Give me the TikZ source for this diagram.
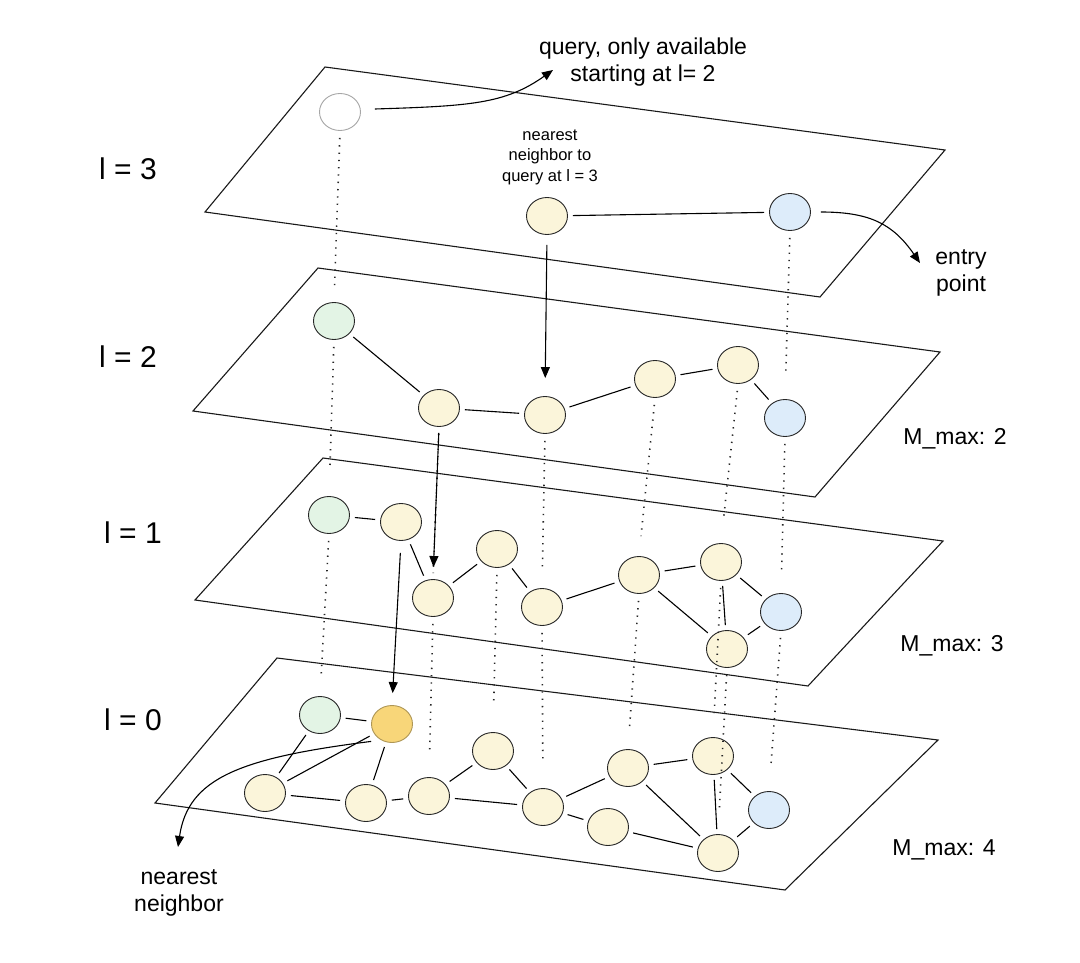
\documentclass[tikz,border=0pt]{standalone}
\usepackage{fontspec}
\setmainfont{Liberation Sans}
\usetikzlibrary{shapes.geometric,arrows.meta}
\definecolor{nyel}{HTML}{FBF5DA}
\definecolor{ngrn}{HTML}{E3F4E5}
\definecolor{nblu}{HTML}{DDECFA}
\definecolor{nora}{HTML}{F8D679}
\begin{document}
\begin{tikzpicture}[x=1pt,y=-1pt,
  plane/.style={draw=black!90,line width=1.1pt},
  vtx/.style={ellipse,draw=black!85,line width=0.9pt,minimum width=41pt,minimum height=37pt,inner sep=0pt},
  yel/.style={vtx,fill=nyel},
  grn/.style={vtx,fill=ngrn},
  blu/.style={vtx,fill=nblu},
  ora/.style={vtx,fill=nora,draw=nora!70!black},
  qry/.style={vtx,fill=white,draw=black!35},
  edge/.style={line width=1.1pt,shorten <=5pt,shorten >=5pt},
  dotl/.style={line width=1.6pt,dash pattern=on 1.3pt off 6pt,shorten <=7pt,draw=black!85},
  arr/.style={line width=1.1pt,-{Triangle[length=11pt,width=9pt]}},
  lbl/.style={font=\fontsize{30}{34}\selectfont},
  txt/.style={font=\fontsize{23}{27}\selectfont,align=center},
  mtxt/.style={font=\fontsize{23}{27}\selectfont},
  small/.style={font=\fontsize{16.5}{20.5}\selectfont,align=center}
]
\useasboundingbox (0,0) rectangle (1080,963);
\fill[white] (0,0) rectangle (1080,963);

% planes
\draw[plane] (325,67) -- (945,150) -- (820,297) -- (205,212) -- cycle;
\draw[plane] (318,268) -- (940,352) -- (815,497) -- (193,411) -- cycle;
\draw[plane] (323,458) -- (943,541) -- (808,686) -- (195,600) -- cycle;
\draw[plane] (277,658) -- (938,740) -- (785,890) -- (155,803) -- cycle;

% layer labels
\node[lbl] (L3) at (128,169) {l = 3};
\node[lbl] (L2) at (128,357) {l = 2};
\node[lbl] (L1) at (133,533) {l = 1};
\node[lbl] (L0) at (133,720) {l = 0};

% layer 3 nodes
\node[qry] (q) at (340,112) {};
\node[yel] (a3) at (547,216) {};
\node[blu] (b3) at (790,212) {};

% layer 2 nodes
\node[grn] (g2) at (334,321) {};
\node[yel] (a2) at (439,408) {};
\node[yel] (c2) at (545,415) {};
\node[yel] (d2) at (655,379) {};
\node[yel] (e2) at (738,365) {};
\node[blu] (b2) at (785,418) {};

% layer 1 nodes
\node[grn] (g1) at (329,515) {};
\node[yel] (a1) at (401,522) {};
\node[yel] (c1) at (433,598) {};
\node[yel] (d1) at (497,549) {};
\node[yel] (e1) at (542,607) {};
\node[yel] (f1) at (639,575) {};
\node[yel] (h1) at (721,562) {};
\node[blu] (b1) at (781,612) {};
\node[yel] (k1) at (727,649) {};

% layer 0 nodes
\node[grn] (g0) at (320,715) {};
\node[ora] (o0) at (392,724) {};
\node[yel] (a0) at (265,793) {};
\node[yel] (c0) at (366,803) {};
\node[yel] (d0) at (429,796) {};
\node[yel] (e0) at (493,751) {};
\node[yel] (f0) at (543,807) {};
\node[yel] (h0) at (628,768) {};
\node[yel] (i0) at (608,827) {};
\node[yel] (j0) at (713,756) {};
\node[blu] (b0) at (769,810) {};
\node[yel] (k0) at (718,853) {};

% edges layer 3
\draw[edge] (a3) -- (b3);
% edges layer 2
\draw[edge] (g2) -- (a2);
\draw[edge] (a2) -- (c2);
\draw[edge] (c2) -- (d2);
\draw[edge] (d2) -- (e2);
\draw[edge] (e2) -- (b2);
% edges layer 1
\draw[edge] (g1) -- (a1);
\draw[edge] (a1) -- (c1);
\draw[edge] (c1) -- (d1);
\draw[edge] (d1) -- (e1);
\draw[edge] (e1) -- (f1);
\draw[edge] (f1) -- (h1);
\draw[edge] (f1) -- (k1);
\draw[edge] (h1) -- (k1);
\draw[edge] (h1) -- (b1);
\draw[edge] (b1) -- (k1);
% edges layer 0
\draw[edge] (g0) -- (o0);
\draw[edge] (g0) -- (a0);
\draw[edge] (o0) -- (a0);
\draw[edge] (o0) -- (c0);
\draw[edge] (a0) -- (c0);
\draw[edge] (c0) -- (d0);
\draw[edge] (d0) -- (e0);
\draw[edge] (d0) -- (f0);
\draw[edge] (e0) -- (f0);
\draw[edge] (f0) -- (h0);
\draw[edge] (f0) -- (i0);
\draw[edge] (h0) -- (j0);
\draw[edge] (h0) -- (k0);
\draw[edge] (i0) -- (k0);
\draw[edge] (j0) -- (k0);
\draw[edge] (j0) -- (b0);
\draw[edge] (b0) -- (k0);

% dotted vertical links
\draw[dotl,shorten >=12pt] (q.south) -- (g2.north);
\draw[dotl,shorten >=28pt] (b3.south) -- (b2.north);
\draw[dotl,shorten >=28pt] (g2.south) -- (g1.north);
\draw[dotl,shorten >=20pt] (c2.south) -- (e1.north);
\draw[dotl,shorten >=20pt] (d2.south) -- (f1.north);
\draw[dotl,shorten >=22pt] (e2.south) -- (h1.north);
\draw[dotl,shorten >=22pt] (b2.south) -- (b1.north);
\draw[dotl,shorten >=22pt] (g1.south) -- (g0.north);
\draw[dotl,shorten >=24pt] (c1.south) -- (d0.north);
\draw[dotl,shorten >=28pt] (d1.south) -- (e0.north);
\draw[dotl,shorten >=24pt] (e1.south) -- (f0.north);
\draw[dotl,shorten >=22pt] (f1.south) -- (h0.north);
\draw[dotl,shorten >=20pt] (h1.south) -- (j0.north);
\draw[dotl,shorten >=22pt] (k1.south) -- (k0.north);
\draw[dotl,shorten >=24pt] (b1.south) -- (b0.north);
\draw[dotl,shorten >=6pt] (a2.south) -- (c1.north);

% search arrows between layers
\draw[arr,shorten <=10pt,shorten >=18pt] (a3.south) -- (c2.north);
\draw[arr,shorten <=6pt,shorten >=12pt] (a2.south) -- (c1.north);
\draw[arr,shorten <=12pt,shorten >=12pt] (a1.south) -- (o0.north);

% texts
\node[txt] (qt) at (643,62) {query, only available\\starting at l= 2};
\node[small] (nt) at (550,157) {nearest\\neighbor to\\query at l = 3};
\node[txt] (et) at (961,273) {entry\\point};
\node[txt] (nn) at (179,893) {nearest\\neighbor};
\node[mtxt] (m2) at (955,439) {M\_max: 2};
\node[mtxt] (m1) at (952,646) {M\_max: 3};
\node[mtxt] (m0) at (944,850) {M\_max: 4};

\coordinate (qtip) at (553,70);
\coordinate (etip) at (920,263);
\coordinate (ntip) at (178,847);
\draw[arr] (q.east) ++(14,-3) .. controls (470,106) and (505,104) .. (qtip);
\draw[arr] (b3.east) ++(10,0) .. controls (870,212) and (893,224) .. (etip);
\draw[arr] (o0.south west) ++(-6,4) .. controls (240,758) and (188,778) .. (ntip);
\end{tikzpicture}
\end{document}
